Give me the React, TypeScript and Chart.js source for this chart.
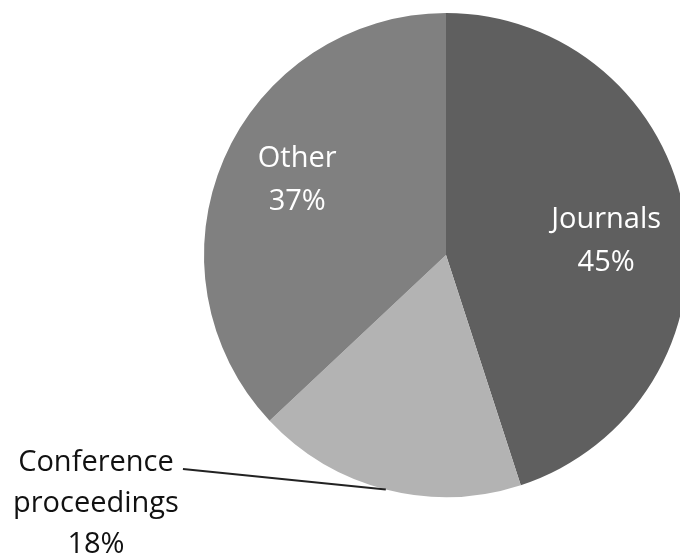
import React, { useEffect, useRef } from "react";
import { Chart, registerables } from "chart.js";

Chart.register(...registerables);

const categories = ["Journals", "Conference proceedings", "Other"];
const labelLines = [["Journals"], ["Conference", "proceedings"], ["Other"]];
const values = [45, 18, 37];
const colors = ["#5f5f5f", "#b3b3b3", "#808080"];
const outside = [false, true, false];
const labelNudgeY = [12, 0, -10];

const FONT = '"Open Sans", sans-serif';

const labelPlugin = {
  id: "pieLabels",
  afterDraw(chart: any) {
    const ctx = chart.ctx;
    const meta = chart.getDatasetMeta(0);
    const total = values.reduce((a, b) => a + b, 0);
    ctx.save();
    ctx.font = `500 29px ${FONT}`;
    ctx.textAlign = "center";
    ctx.textBaseline = "middle";
    meta.data.forEach((arc: any, i: number) => {
      const { x, y, startAngle, endAngle, outerRadius } = arc.getProps(
        ["x", "y", "startAngle", "endAngle", "outerRadius"],
        true
      );
      const mid = (startAngle + endAngle) / 2;
      const pct = Math.round((values[i] / total) * 100) + "%";
      const lines = [...labelLines[i], pct];
      const lh = 43;
      if (!outside[i]) {
        const r = outerRadius * 0.67;
        const lx = x + Math.cos(mid) * r;
        const ly = y + Math.sin(mid) * r + labelNudgeY[i];
        ctx.fillStyle = "#ffffff";
        lines.forEach((t, k) => {
          ctx.fillText(t, lx, ly + (k - (lines.length - 1) / 2) * lh);
        });
      } else {
        const sx = x + Math.cos(mid) * outerRadius;
        const sy = y + Math.sin(mid) * outerRadius;
        const ex = x - outerRadius * 1.087;
        const ey = y + outerRadius * 0.884;
        ctx.strokeStyle = "#222222";
        ctx.lineWidth = 2;
        ctx.beginPath();
        ctx.moveTo(sx, sy);
        ctx.lineTo(ex, ey);
        ctx.stroke();
        const tx = ex - 87;
        const ty = ey - 6;
        ctx.fillStyle = "#111111";
        lines.forEach((t, k) => {
          ctx.fillText(t, tx, ty + k * 41);
        });
      }
    });
    ctx.restore();
  },
};

export default function App() {
  const ref = useRef<HTMLCanvasElement>(null);
  useEffect(() => {
    if (!ref.current) return;
    const chart = new Chart(ref.current, {
      type: "pie",
      data: {
        labels: categories,
        datasets: [
          {
            data: values,
            backgroundColor: colors,
            borderWidth: 0,
          },
        ],
      },
      options: {
        responsive: false,
        animation: false,
        layout: { padding: { left: 204, top: 13, right: 12, bottom: 59 } },
        plugins: {
          legend: { display: false },
          tooltip: { enabled: false },
        },
      },
      plugins: [labelPlugin],
    });
    return () => chart.destroy();
  }, []);
  return (
    <div style={{ position: "fixed", left: 0, top: 0, width: 680, height: 556, overflow: "hidden", background: "#fff" }}>
      <canvas ref={ref} width={700} height={556} style={{ display: "block" }} />
    </div>
  );
}
